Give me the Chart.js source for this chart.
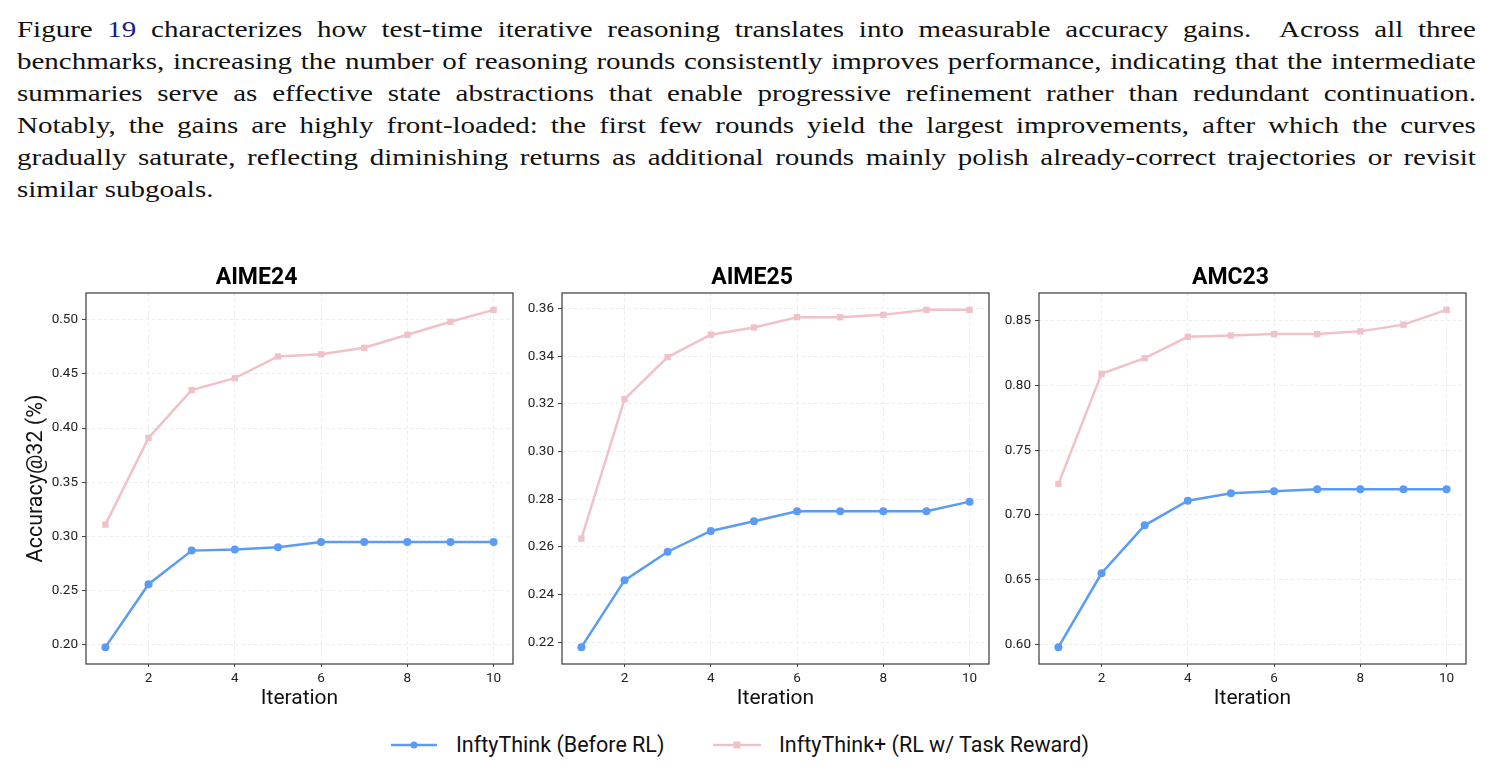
<!DOCTYPE html>
<html>
<head>
<meta charset="utf-8">
<script src="https://cdn.jsdelivr.net/npm/chart.js@4.4.1/dist/chart.umd.min.js"></script>
<style>
  body { margin: 0; background: #fff; width: 1494px; height: 777px; overflow: hidden; position: relative; }
  .para { position: absolute; left: 17px; top: 13px; width: 1459px; font-family: "Liberation Serif", serif; font-size: 24px; line-height: 32px; color: #111; transform-origin: 0 0; }
  .para div { text-align: justify; text-align-last: justify; white-space: nowrap; }
  .para div.last { text-align-last: left; }
  .para .ref { color: #1a1a8c; }
  canvas { position: absolute; }
  .legend { position: absolute; top: 0; left: 0; width: 1494px; font-family: Roboto, sans-serif; font-size: 21.5px; line-height: 25px; color: #111; }
  .legend span.item { position: absolute; top: 732px; white-space: nowrap; }
  .legend svg { position: absolute; top: 735px; }
</style>
</head>
<body>
<div class="para" id="para">
  <div>Figure <span class="ref">19</span> characterizes how test-time iterative reasoning translates into measurable accuracy gains.&nbsp; Across all three</div>
  <div>benchmarks, increasing the number of reasoning rounds consistently improves performance, indicating that the intermediate</div>
  <div>summaries serve as effective state abstractions that enable progressive refinement rather than redundant continuation.</div>
  <div>Notably, the gains are highly front-loaded: the first few rounds yield the largest improvements, after which the curves</div>
  <div>gradually saturate, reflecting diminishing returns as additional rounds mainly polish already-correct trajectories or revisit</div>
  <div class="last">similar subgoals.</div>
</div>

<canvas id="c1" style="left:0px;top:263px;" width="520" height="449"></canvas>
<canvas id="c2" style="left:515px;top:263px;" width="480" height="449"></canvas>
<canvas id="c3" style="left:995px;top:263px;" width="499" height="449"></canvas>

<div class="legend">
  <svg style="left:391px" width="46" height="20"><line x1="0" y1="10" x2="46" y2="10" stroke="#5a9cf5" stroke-width="2.5"/><circle cx="23" cy="10" r="3.5" fill="#5a9cf5"/></svg>
  <span class="item" style="left:456px">InftyThink (Before RL)</span>
  <svg style="left:713px" width="48" height="20"><line x1="0" y1="10" x2="48" y2="10" stroke="#f1c1c8" stroke-width="2.5"/><rect x="20.5" y="6.5" width="7" height="7" fill="#f1c1c8"/></svg>
  <span class="item" style="left:779px">InftyThink+ (RL w/ Task Reward)</span>
</div>

<script>
const iterations = [1, 2, 3, 4, 5, 6, 7, 8, 9, 10];
const xTicks = [2, 4, 6, 8, 10];

const aime24Before = [0.198, 0.256, 0.287, 0.288, 0.290, 0.295, 0.295, 0.295, 0.295, 0.295];
const aime24Plus = [0.311, 0.391, 0.435, 0.446, 0.466, 0.468, 0.474, 0.486, 0.498, 0.509];
const aime24Ticks = [0.20, 0.25, 0.30, 0.35, 0.40, 0.45, 0.50];

const aime25Before = [0.218, 0.246, 0.258, 0.2667, 0.2708, 0.275, 0.275, 0.275, 0.275, 0.279];
const aime25Plus = [0.2635, 0.322, 0.3396, 0.349, 0.352, 0.3563, 0.3563, 0.3573, 0.3594, 0.3594];
const aime25Ticks = [0.22, 0.24, 0.26, 0.28, 0.30, 0.32, 0.34, 0.36];

const amc23Before = [0.598, 0.655, 0.692, 0.711, 0.7167, 0.7183, 0.7198, 0.7198, 0.7198, 0.7198];
const amc23Plus = [0.724, 0.809, 0.821, 0.8375, 0.8385, 0.8396, 0.8396, 0.8417, 0.8469, 0.8583];
const amc23Ticks = [0.60, 0.65, 0.70, 0.75, 0.80, 0.85];

const blue = '#5a9cf5';
const pink = '#f1c1c8';
const font = 'Roboto, sans-serif';

// the page text is a bit wider than plain Times, so stretch it horizontally until the widest line fits
(function fitParagraph() {
  const para = document.getElementById('para');
  const m = document.createElement('canvas').getContext('2d');
  m.font = '24px "Liberation Serif"';
  let widest = 0;
  para.querySelectorAll('div:not(.last)').forEach(d => {
    widest = Math.max(widest, m.measureText(d.textContent.replace(/\s+/g, ' ').trim()).width);
  });
  const stretch = 1440 / widest;
  para.style.width = (1459 / stretch).toFixed(1) + 'px';
  para.style.transform = 'scaleX(' + stretch.toFixed(4) + ')';
})();

// full box around the plot area, like matplotlib spines
const frame = {
  id: 'frame',
  afterDraw(chart) {
    const {ctx, chartArea: a} = chart;
    ctx.save();
    ctx.strokeStyle = '#3a3a3a';
    ctx.lineWidth = 1.2;
    ctx.strokeRect(a.left, a.top, a.right - a.left, a.bottom - a.top);
    ctx.restore();
  }
};

function toPoints(values) {
  return values.map((v, i) => ({x: iterations[i], y: v}));
}

function makeChart(id, title, before, plus, yTicks, yWidth, padRight, showYTitle) {
  const lo = Math.min(...before, ...plus);
  const hi = Math.max(...before, ...plus);
  const margin = (hi - lo) * 0.05;
  const ctx = document.getElementById(id).getContext('2d');
  return new Chart(ctx, {
    type: 'line',
    data: {
      datasets: [
        {
          label: 'InftyThink (Before RL)',
          data: toPoints(before),
          borderColor: blue,
          backgroundColor: blue,
          borderWidth: 2.5,
          pointStyle: 'circle',
          pointRadius: 4,
          pointBorderWidth: 0,
        },
        {
          label: 'InftyThink+ (RL w/ Task Reward)',
          data: toPoints(plus),
          borderColor: pink,
          backgroundColor: pink,
          borderWidth: 2.5,
          pointStyle: 'rect',
          pointRadius: 4.5,
          pointBorderWidth: 0,
        },
      ]
    },
    options: {
      responsive: false,
      animation: false,
      layout: {padding: {left: 0, right: padRight, top: 0, bottom: 0}},
      plugins: {
        legend: {display: false},
        tooltip: {enabled: false},
        title: {
          display: true,
          text: title,
          color: '#000',
          font: {family: font, size: 23, weight: 'bold'},
          padding: {top: 1.2, bottom: 1.2},
        },
      },
      scales: {
        x: {
          type: 'linear',
          min: 0.55,
          max: 10.45,
          afterBuildTicks: (scale) => { scale.ticks = xTicks.map(v => ({value: v})); },
          afterFit: (scale) => { scale.height = 48; },
          grid: {color: '#ececec', tickColor: '#444', tickLength: 3, drawTicks: true},
          border: {display: false, dash: [3, 3]},
          ticks: {color: '#222', font: {family: font, size: 13.5}, padding: 4, maxRotation: 0},
          title: {display: true, text: 'Iteration', color: '#111', font: {family: font, size: 21}, padding: {top: 0, bottom: 1}},
        },
        y: {
          min: lo - margin,
          max: hi + margin,
          afterBuildTicks: (scale) => { scale.ticks = yTicks.map(v => ({value: v})); },
          afterFit: (scale) => { scale.width = yWidth; },
          grid: {color: '#ececec', tickColor: '#444', tickLength: 4, drawTicks: true},
          border: {display: false, dash: [3, 3]},
          ticks: {color: '#222', font: {family: font, size: 13.5}, padding: 4, callback: (v) => v.toFixed(2)},
          title: {display: showYTitle, text: 'Accuracy@32 (%)', color: '#111', font: {family: font, size: 21.5}, padding: {top: 24, bottom: 0}},
        }
      }
    },
    plugins: [frame]
  });
}

makeChart('c1', 'AIME24', aime24Before, aime24Plus, aime24Ticks, 86, 7, true);
makeChart('c2', 'AIME25', aime25Before, aime25Plus, aime25Ticks, 47, 6, false);
makeChart('c3', 'AMC23', amc23Before, amc23Plus, amc23Ticks, 44, 28, false);
</script>
</body>
</html>
